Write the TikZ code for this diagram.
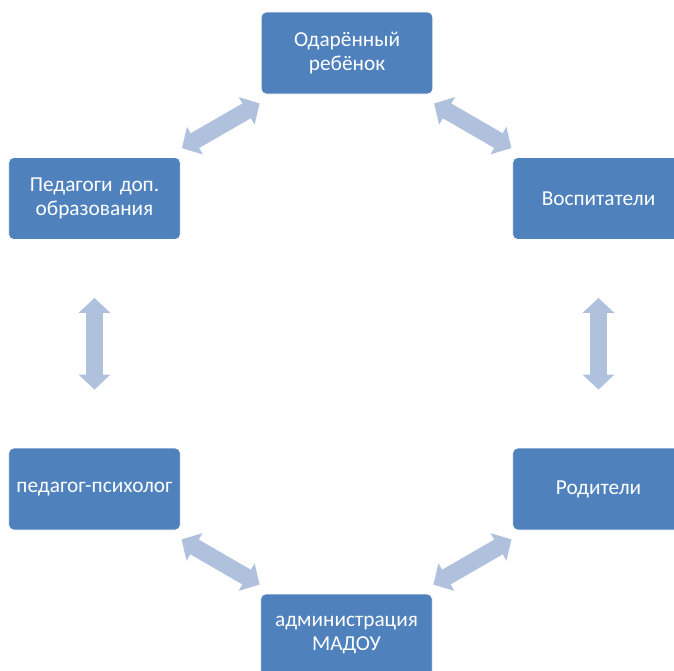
\documentclass[tikz,border=0pt]{standalone}
\usepackage{fontspec}
\setmainfont{Carlito}
\usetikzlibrary{arrows.meta}
\definecolor{boxblue}{HTML}{4F81BD}
\definecolor{arrowblue}{HTML}{B0C1DE}
\begin{document}
\begin{tikzpicture}[x=1pt,y=-1pt,
  role/.style={draw=white, line width=0.8pt, fill=boxblue, rounded corners=5pt,
    minimum width=171pt, minimum height=82pt, text width=165pt, align=center,
    text=white, font=\fontsize{21.3}{24}\selectfont},
  link/.style={draw=arrowblue, line width=17pt,
    {Triangle[width=31pt,length=15pt]}-{Triangle[width=31pt,length=15pt]}}]
\useasboundingbox (0,0) rectangle (674,670);
\node[role] (child) at (347,53) {Одарённый\\ребёнок};
\node[role] (extra) at (94.5,198.5) {Педагоги доп.\\образования};
\node[role] (teach) at (598.5,198.5) {Воспитатели};
\node[role] (psych) at (94.5,489) {педагог-психолог};
\node[role] (parent) at (598.5,489) {Родители};
\node[role] (admin) at (346.5,635) {администрация\\МАДОУ};
\path[link,shorten <=18pt,shorten >=18pt] (extra) -- (child);
\path[link,shorten <=18pt,shorten >=18pt] (child) -- (teach);
\path[link,shorten <=58pt,shorten >=58pt] (extra) -- (psych);
\path[link,shorten <=58pt,shorten >=58pt] (teach) -- (parent);
\path[link,shorten <=18pt,shorten >=18pt] (psych) -- (admin);
\path[link,shorten <=18pt,shorten >=18pt] (parent) -- (admin);
\end{tikzpicture}
\end{document}
